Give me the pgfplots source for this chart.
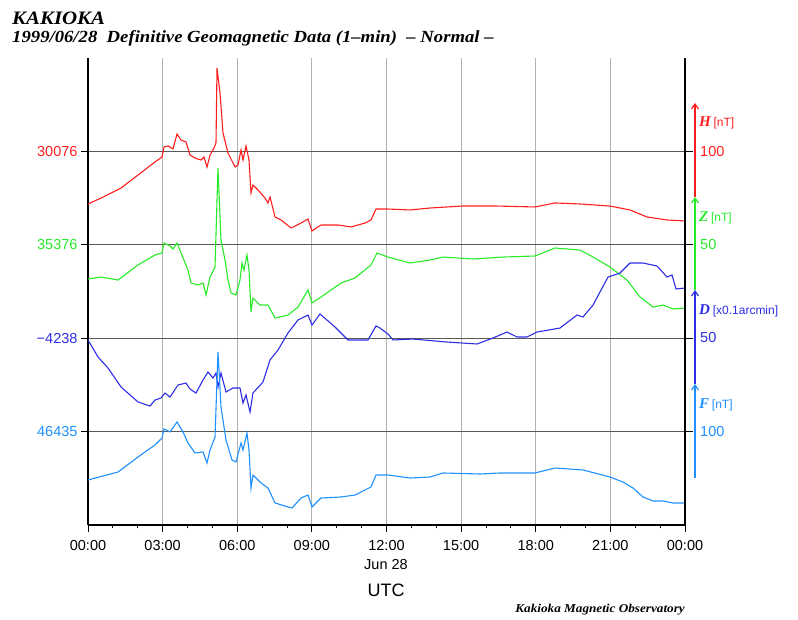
\documentclass[border=0pt]{standalone}
\usepackage{fontspec}
\setmainfont{Liberation Sans}
\newfontfamily\tms{Liberation Serif}
\newfontfamily\tmsw[FakeStretch=1.1]{Liberation Serif}
\usepackage{pgfplots}
\pgfplotsset{compat=1.18}
\usetikzlibrary{arrows.meta}
\definecolor{Hc}{RGB}{255,30,30}
\definecolor{Zc}{RGB}{40,235,40}
\definecolor{Dc}{RGB}{45,45,230}
\definecolor{Fc}{RGB}{30,144,255}
\begin{document}
\begin{tikzpicture}[x=1pt,y=1pt]
\path[use as bounding box] (0,0) rectangle (798,619);
\begin{axis}[
  at={(88pt,94pt)}, anchor=south west, scale only axis,
  width=597pt, height=467pt,
  xmin=0, xmax=24, ymin=0, ymax=5,
  axis x line*=bottom, axis y line*=left,
  x axis line style={line width=1.2pt, black},
  y axis line style={line width=2.6pt, black},
  xtick={0,3,...,24},
  xticklabels={00:00,03:00,06:00,09:00,12:00,15:00,18:00,21:00,00:00},
  minor x tick num=2,
  ytick={1,2,3,4},
  yticklabels={\textcolor{Fc}{46435},\textcolor{Dc}{−4238},\textcolor{Zc}{35376},\textcolor{Hc}{30076}},
  tick align=outside, major tick length=7pt, minor tick length=3pt,
  tick style={black, line width=0.8pt},
  xmajorgrids, ymajorgrids,
  major x grid style={black!30, line width=0.8pt},
  major y grid style={black!65, line width=0.9pt},
  ticklabel style={font=\fontsize{14.5}{16}\selectfont},
  xticklabel style={yshift=-5pt},
  clip=false,
]
% H
\addplot[Hc, line width=1.1pt] coordinates {
(0,3.437) (0.6,3.51) (1.327,3.608) (2.010,3.747) (2.693,3.887) (2.975,3.940) (3.055,4.047)
(3.216,4.058) (3.417,4.026) (3.578,4.186) (3.739,4.122) (3.940,4.101) (4.101,3.961)
(4.302,3.929) (4.543,3.908) (4.663,3.940) (4.784,3.833) (4.905,3.961) (5.065,4.036)
(5.146,4.090) (5.186,4.893) (5.307,4.625) (5.427,4.197) (5.628,3.983) (5.910,3.833)
(6.030,3.854) (6.151,4.015) (6.231,3.908) (6.352,4.058) (6.472,3.908) (6.553,3.555)
(6.633,3.640) (6.834,3.587) (7.116,3.501) (7.236,3.448) (7.317,3.512) (7.518,3.298)
(7.759,3.266) (8.161,3.180) (8.563,3.233) (8.844,3.276) (9.005,3.148) (9.367,3.212)
(10.050,3.212) (10.573,3.191) (11.136,3.233) (11.377,3.266) (11.578,3.383) (12.060,3.383)
(12.945,3.373) (13.749,3.394) (15.035,3.415) (16.442,3.415) (17.970,3.405) (18.774,3.448)
(19.779,3.437) (20.985,3.415) (21.789,3.373) (22.472,3.298) (23.276,3.266) (24,3.255)
};
% Z
\addplot[Zc, line width=1.1pt] coordinates {
(0,2.634) (0.523,2.655) (1.206,2.623) (2.010,2.784) (2.693,2.891) (2.975,2.912)
(3.055,3.019) (3.296,2.987) (3.417,2.955) (3.578,3.019) (3.739,2.912) (4.020,2.730)
(4.141,2.591) (4.422,2.570) (4.623,2.591) (4.744,2.463) (4.905,2.655) (5.106,2.762)
(5.226,3.822) (5.347,3.051) (5.508,2.837) (5.628,2.623) (5.749,2.484) (5.950,2.463)
(6.111,2.623) (6.191,2.805) (6.271,2.730) (6.392,2.891) (6.472,2.730) (6.553,2.281)
(6.633,2.430) (6.915,2.355) (7.236,2.355) (7.518,2.216) (8.040,2.248) (8.442,2.334)
(8.844,2.516) (9.005,2.377) (9.367,2.441) (10.171,2.591) (10.734,2.645) (11.377,2.784)
(11.618,2.912) (12.060,2.869) (12.945,2.805) (13.749,2.837) (14.271,2.869) (15.477,2.848)
(16.683,2.869) (17.970,2.880) (18.774,2.966) (19.779,2.944) (20.302,2.869) (20.985,2.762)
(21.668,2.623) (22.191,2.441) (22.714,2.334) (23.116,2.355) (23.518,2.313) (24,2.323)
};
% D
\addplot[Dc, line width=1.1pt] coordinates {
(0,1.981) (0.402,1.799) (0.804,1.681) (1.327,1.478) (2.010,1.317) (2.492,1.274)
(2.693,1.338) (2.935,1.360) (3.095,1.413) (3.296,1.370) (3.618,1.499) (3.940,1.520)
(4.101,1.456) (4.342,1.413) (4.623,1.552) (4.824,1.638) (5.025,1.574) (5.146,1.627)
(5.226,1.478) (5.347,1.627) (5.548,1.424) (5.829,1.467) (6.111,1.467) (6.231,1.306)
(6.352,1.392) (6.513,1.210) (6.633,1.413) (7.035,1.531) (7.317,1.767) (7.638,1.874)
(8.040,2.056) (8.442,2.195) (8.844,2.248) (9.005,2.141) (9.327,2.259) (9.930,2.120)
(10.452,1.981) (11.256,1.981) (11.578,2.131) (11.739,2.109) (12.060,2.045) (12.261,1.981)
(13.065,1.991) (14.432,1.959) (15.638,1.938) (16.281,2.002) (16.844,2.066) (17.246,2.013)
(17.648,2.013) (18.050,2.066) (18.975,2.109) (19.658,2.248) (19.899,2.227) (20.302,2.355)
(20.583,2.495) (20.905,2.655) (21.387,2.698) (21.789,2.805) (22.312,2.805) (22.874,2.773)
(23.276,2.655) (23.477,2.677) (23.638,2.527) (24,2.537)
};
% F
\addplot[Fc, line width=1.1pt] coordinates {
(0,0.482) (1.206,0.567) (2.010,0.728) (2.693,0.857) (2.975,0.931) (3.055,1.028)
(3.296,0.996) (3.578,1.103) (3.819,0.996) (4.020,0.878) (4.302,0.771) (4.623,0.782)
(4.784,0.664) (4.905,0.803) (5.106,0.942) (5.226,1.852) (5.347,1.263) (5.548,0.910)
(5.789,0.696) (5.950,0.675) (6.151,0.878) (6.231,0.803) (6.392,0.985) (6.472,0.803)
(6.553,0.396) (6.633,0.535) (6.955,0.450) (7.236,0.396) (7.518,0.236) (8.040,0.193)
(8.201,0.182) (8.563,0.289) (8.844,0.321) (9.005,0.193) (9.367,0.289) (10.171,0.300)
(10.734,0.321) (11.377,0.407) (11.578,0.535) (12.060,0.535) (12.945,0.503) (13.749,0.514)
(14.271,0.557) (15.759,0.546) (16.563,0.557) (17.970,0.557) (18.774,0.610) (19.899,0.589)
(20.985,0.514) (21.508,0.460) (21.910,0.396) (22.312,0.300) (22.714,0.257) (23.116,0.257)
(23.518,0.236) (24,0.236)
};
\draw[line width=2.6pt, black] (rel axis cs:1,0) -- (rel axis cs:1,1);
\draw[black, line width=0.9pt] (axis cs:24,1) -- ++(8pt,0);
\draw[black, line width=0.9pt] (axis cs:24,2) -- ++(8pt,0);
\draw[black, line width=0.9pt] (axis cs:24,3) -- ++(8pt,0);
\draw[black, line width=0.9pt] (axis cs:24,4) -- ++(8pt,0);
\end{axis}
% titles
\node[anchor=base west, inner sep=0pt, font=\tmsw\bfseries\itshape\fontsize{19}{22}\selectfont] at (12,594) {KAKIOKA};
\node[anchor=base west, inner sep=0pt, font=\tmsw\bfseries\itshape\fontsize{17}{19}\selectfont] at (12,576) {1999/06/28\ \ Definitive Geomagnetic Data (1–min)\ \ – Normal –};
% right scale arrows
\draw[Hc, line width=1.2pt, -{Straight Barb[length=5pt,width=7pt]}] (695,422) -- (695,516);
\draw[Zc, line width=1.2pt, -{Straight Barb[length=5pt,width=7pt]}] (695,329) -- (695,422);
\draw[Dc, line width=1.2pt, -{Straight Barb[length=5pt,width=7pt]}] (695,235) -- (695,329);
\draw[Fc, line width=1.2pt, -{Straight Barb[length=5pt,width=7pt]}] (695,141) -- (695,235);
% right labels
\node[anchor=base west, inner sep=0pt, text=Hc] at (699,492) {{\tms\bfseries\itshape\fontsize{15}{16}\selectfont H}\ {\fontsize{12}{13}\selectfont [nT]}};
\node[anchor=base west, inner sep=0pt, text=Hc, font=\fontsize{14.5}{16}\selectfont] at (700,462) {100};
\node[anchor=base west, inner sep=0pt, text=Zc] at (699,397) {{\tms\bfseries\itshape\fontsize{15}{16}\selectfont Z}\ {\fontsize{12}{13}\selectfont [nT]}};
\node[anchor=base west, inner sep=0pt, text=Zc, font=\fontsize{14.5}{16}\selectfont] at (700,369) {50};
\node[anchor=base west, inner sep=0pt, text=Dc] at (699,304) {{\tms\bfseries\itshape\fontsize{15}{16}\selectfont D}\ {\fontsize{12}{13}\selectfont [x0.1arcmin]}};
\node[anchor=base west, inner sep=0pt, text=Dc, font=\fontsize{14.5}{16}\selectfont] at (700,276) {50};
\node[anchor=base west, inner sep=0pt, text=Fc] at (699,210) {{\tms\bfseries\itshape\fontsize{15}{16}\selectfont F}\ {\fontsize{12}{13}\selectfont [nT]}};
\node[anchor=base west, inner sep=0pt, text=Fc, font=\fontsize{14.5}{16}\selectfont] at (700,182) {100};
% bottom texts
\node[anchor=base, inner sep=0pt, font=\fontsize{14.5}{16}\selectfont] at (386,50) {Jun 28};
\node[anchor=base, inner sep=0pt, font=\fontsize{18}{20}\selectfont] at (386,23) {UTC};
\node[anchor=base east, inner sep=0pt, font=\tmsw\bfseries\itshape\fontsize{12}{13}\selectfont] at (685,7) {Kakioka Magnetic Observatory};
\end{tikzpicture}
\end{document}
